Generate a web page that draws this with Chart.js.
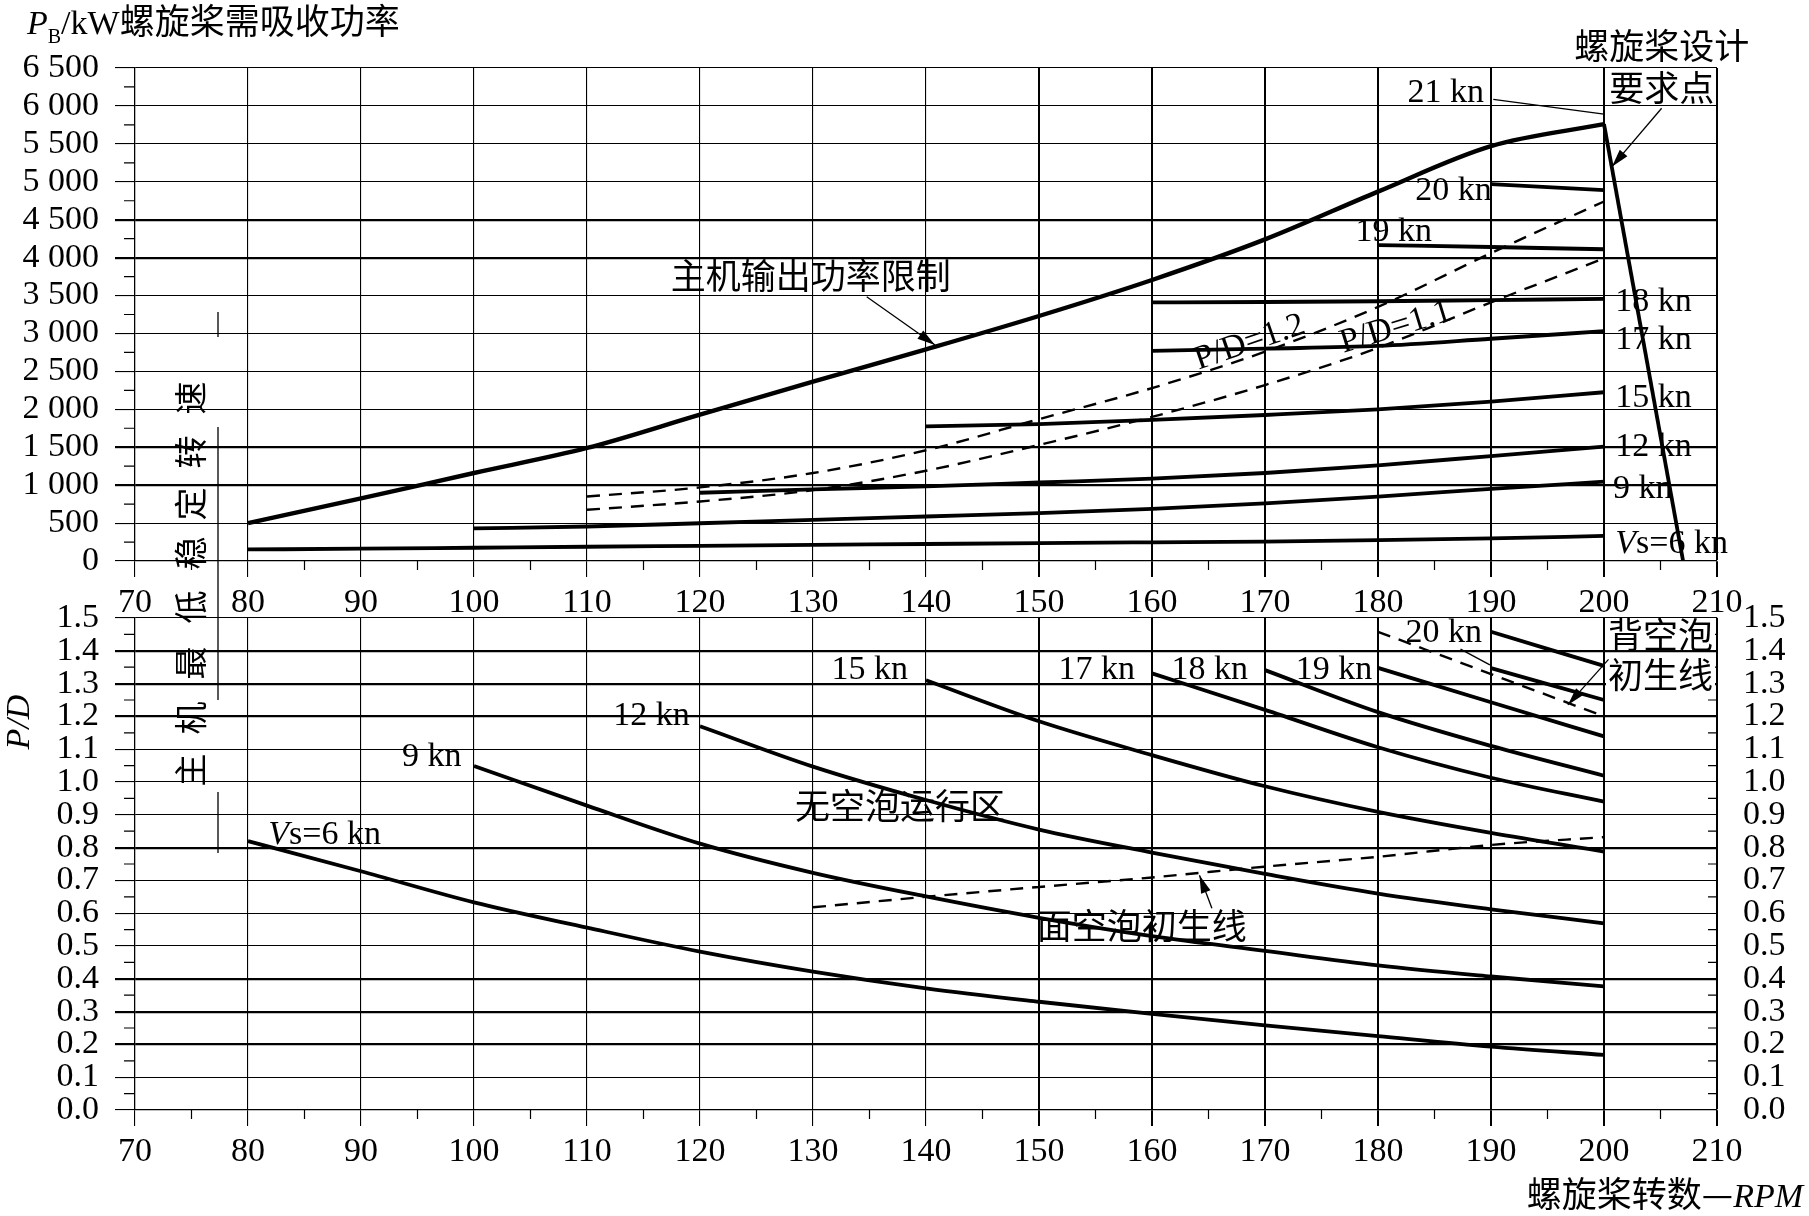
<!DOCTYPE html>
<html>
<head>
<meta charset="utf-8">
<script src="https://cdn.jsdelivr.net/npm/chart.js@4.4.1/dist/chart.umd.min.js"></script>
<style>
  html, body { margin: 0; padding: 0; background: #fff; }
  #wrap { position: relative; width: 1809px; height: 1216px; background: #fff; }
  canvas { position: absolute; left: 0; top: 0; }
</style>
</head>
<body>
<div id="wrap">
  <canvas id="upper" width="1809" height="1216"></canvas>
  <canvas id="lower" width="1809" height="1216"></canvas>
</div>
<script>
const SERIF = '"Liberation Serif", "Times New Roman", serif';
const CJK = '"Noto Sans CJK SC", sans-serif';

// propeller speed sample points (rpm) shared by every curve
const rpm = [80, 90, 100, 110, 120, 130, 140, 150, 160, 170, 180, 190, 200];

// upper diagram: absorbed power P_B (kW)
const engineLimit = [500, 825, 1160, 1490, 1930, 2365, 2790, 3230, 3705, 4240, 4870, 5470, 5760];
const pitch12 = [null, null, null, 850, 970, 1160, 1460, 1870, 2280, 2760, 3350, 4060, 4740];
const pitch11 = [null, null, null, 675, 785, 935, 1190, 1530, 1900, 2320, 2810, 3410, 3990];
const kw6 = [152, 162, 175, 188, 200, 212, 224, 236, 246, 256, 274, 299, 330];
const kw9 = [null, null, 430, 455, 498, 543, 587, 631, 688, 760, 850, 950, 1046];
const kw12 = [null, null, null, null, 900, 945, 985, 1035, 1085, 1160, 1262, 1384, 1507];
const kw15 = [null, null, null, null, null, null, 1775, 1805, 1860, 1925, 2000, 2100, 2225];
const kw17 = [null, null, null, null, null, null, null, null, 2770, 2800, 2835, 2930, 3030];
const kw18 = [null, null, null, null, null, null, null, null, 3410, 3415, 3425, 3440, 3455];
const kw19 = [null, null, null, null, null, null, null, null, null, null, 4165, 4140, 4110];
const kw20 = [null, null, null, null, null, null, null, null, null, null, null, 4970, 4890];
const designRpm = [200, 207];
const designKw = [5760, 0];

// lower diagram: pitch ratio P/D
const pd6 = [0.82, 0.728, 0.633, 0.556, 0.483, 0.422, 0.371, 0.33, 0.293, 0.258, 0.225, 0.193, 0.168];
const pd9 = [null, null, 1.049, 0.928, 0.812, 0.723, 0.651, 0.586, 0.53, 0.485, 0.441, 0.407, 0.377];
const pd12 = [null, null, null, null, 1.17, 1.047, 0.945, 0.855, 0.785, 0.72, 0.66, 0.612, 0.569];
const pd15 = [null, null, null, null, null, null, 1.31, 1.185, 1.082, 0.987, 0.909, 0.845, 0.788];
const pd17 = [null, null, null, null, null, null, null, null, 1.331, 1.22, 1.106, 1.013, 0.94];
const pd18 = [null, null, null, null, null, null, null, null, null, 1.341, 1.213, 1.11, 1.019];
const pd19 = [null, null, null, null, null, null, null, null, null, null, 1.348, 1.243, 1.139];
const pd20 = [null, null, null, null, null, null, null, null, null, null, null, 1.347, 1.25];
const pd21 = [null, null, null, null, null, null, null, null, null, null, null, 1.458, 1.354];
const backCavitation = [null, null, null, null, null, null, null, null, null, null, 1.458, 1.329, 1.2];
const faceCavitation = [null, null, null, null, null, 0.618, 0.65, 0.68, 0.709, 0.742, 0.772, 0.808, 0.832];

function curve(values, width, dashed) {
  const pts = [];
  rpm.forEach((r, i) => { if (values[i] != null) pts.push({x: r, y: values[i]}); });
  return {
    data: pts, borderColor: '#000', borderWidth: width || 3.8,
    borderDash: dashed ? [13, 9] : [], pointRadius: 0, fill: false,
    cubicInterpolationMode: 'monotone'
  };
}

function kwLabel(v) {
  if (v < 1000) return String(v);
  return Math.floor(v / 1000) + ' ' + String(v % 1000).padStart(3, '0');
}

// draw a row of text runs; run = [text, font, dy]
function write(ctx, runs, x, y, align, angle, bg) {
  ctx.save();
  ctx.translate(x, y);
  if (angle) ctx.rotate(angle * Math.PI / 180);
  ctx.textBaseline = 'alphabetic';
  ctx.textAlign = 'left';
  let w = 0;
  runs.forEach(r => { ctx.font = r[1]; w += ctx.measureText(r[0]).width; });
  let x0 = align === 'center' ? -w / 2 : align === 'right' ? -w : 0;
  if (bg) { ctx.fillStyle = '#fff'; ctx.fillRect(x0 - 2, -bg[0], w + 4, bg[1]); }
  ctx.fillStyle = '#000';
  runs.forEach(r => { ctx.font = r[1]; ctx.fillText(r[0], x0, r[2] || 0); x0 += ctx.measureText(r[0]).width; });
  ctx.restore();
}

function arrow(ctx, x1, y1, x2, y2, head) {
  ctx.save();
  ctx.strokeStyle = '#000'; ctx.fillStyle = '#000'; ctx.lineWidth = 1.3;
  ctx.beginPath(); ctx.moveTo(x1, y1); ctx.lineTo(x2, y2); ctx.stroke();
  if (head) {
    const a = Math.atan2(y2 - y1, x2 - x1), L = 18, H = 5;
    ctx.beginPath();
    ctx.moveTo(x2, y2);
    ctx.lineTo(x2 - L * Math.cos(a) + H * Math.sin(a), y2 - L * Math.sin(a) - H * Math.cos(a));
    ctx.lineTo(x2 - L * Math.cos(a) - H * Math.sin(a), y2 - L * Math.sin(a) + H * Math.cos(a));
    ctx.closePath(); ctx.fill();
  }
  ctx.restore();
}

function minorTicks(chart, yStep, yMax, rightSide) {
  const ctx = chart.ctx, a = chart.chartArea, xs = chart.scales.x, ys = chart.scales.y;
  ctx.save();
  ctx.strokeStyle = '#000'; ctx.lineWidth = 1.2;
  ctx.beginPath();
  for (let v = 75; v < 210; v += 10) {
    const p = xs.getPixelForValue(v);
    ctx.moveTo(p, a.bottom); ctx.lineTo(p, a.bottom + 9);
  }
  for (let v = yStep / 2; v < yMax; v += yStep) {
    const p = ys.getPixelForValue(v);
    ctx.moveTo(a.left - 11, p); ctx.lineTo(a.left, p);
    if (rightSide) { ctx.moveTo(a.right - 9, p); ctx.lineTo(a.right, p); }
  }
  ctx.stroke();
  ctx.restore();
}

const f34 = '34px ' + SERIF, i34 = 'italic 34px ' + SERIF, c35 = '35px ' + CJK;

const upperNotes = {
  id: 'upperNotes',
  afterDraw(chart) {
    const ctx = chart.ctx, xs = chart.scales.x, ys = chart.scales.y;
    const X = v => xs.getPixelForValue(v), Y = v => ys.getPixelForValue(v);
    minorTicks(chart, 500, 6500, false);

    // axis title
    write(ctx, [['P', i34], ['B', '20px ' + SERIF, 9], ['/kW', f34], ['螺旋桨需吸收功率', c35]], 27, 34, 'left');

    write(ctx, [['主机输出功率限制', c35]], X(129.8), Y(3745) + 12, 'center');
    arrow(ctx, X(134.75), Y(3485), X(140.8), Y(2848), true);

    write(ctx, [['螺旋桨设计', c35]], X(205.1), Y(6777) + 12, 'center');
    write(ctx, [['要求点', c35]], X(205.1), Y(6223) + 12, 'center');
    arrow(ctx, X(205.1), Y(5969), X(200.7), Y(5199), true);

    write(ctx, [['21 kn', f34]], X(182.6), Y(6210) + 12, 'left');
    arrow(ctx, X(190.2), Y(6087), X(200), Y(5893), false);
    write(ctx, [['20 kn', f34]], X(183.3), Y(4918) + 12, 'left');
    write(ctx, [['19 kn', f34]], X(178.0), Y(4377) + 12, 'left');
    write(ctx, [['18 kn', f34]], X(201.0), Y(3454) + 12, 'left');
    write(ctx, [['17 kn', f34]], X(201.0), Y(2953) + 12, 'left');
    write(ctx, [['15 kn', f34]], X(201.0), Y(2189) + 12, 'left');
    write(ctx, [['12 kn', f34]], X(201.0), Y(1543) + 12, 'left');
    write(ctx, [['9 kn', f34]], X(200.8), Y(989) + 12, 'left');
    write(ctx, [['V', i34], ['s=6 kn', f34]], X(201.0), Y(264) + 12, 'left');

    write(ctx, [['P/D=1.2', f34]], X(168.9), Y(2927) + 12, 'center', -19);
    write(ctx, [['P/D=1.1', f34]], X(181.8), Y(3125) + 12, 'center', -17);

    // minimum stable engine speed note, spanning both diagrams
    const chars = ['主', '机', '最', '低', '稳', '定', '转', '速'];
    const cy = [770, 718, 663, 607, 553, 504, 452, 398];
    chars.forEach((c, i) => write(ctx, [[c, '33px ' + CJK]], 191 + 12, cy[i], 'center', -90));
    ctx.save();
    ctx.strokeStyle = '#000'; ctx.lineWidth = 1.3;
    ctx.beginPath();
    [[312, 337], [427, 700], [792, 853]].forEach(s => { ctx.moveTo(218, s[0]); ctx.lineTo(218, s[1]); });
    ctx.stroke();
    ctx.restore();
  }
};

const lowerNotes = {
  id: 'lowerNotes',
  afterDraw(chart) {
    const ctx = chart.ctx, xs = chart.scales.x, ys = chart.scales.y;
    const X = v => xs.getPixelForValue(v), Y = v => ys.getPixelForValue(v);
    minorTicks(chart, 0.1, 1.5, true);

    write(ctx, [['P/D', i34]], 17 + 12, 722, 'center', -90);
    write(ctx, [['螺旋桨转数—', c35], ['RPM', i34]], 1803, 1207, 'right');

    write(ctx, [['V', i34], ['s=6 kn', f34]], X(81.8), Y(0.848) + 12, 'left');
    write(ctx, [['9 kn', f34]], X(98.9), Y(1.085) + 12, 'right');
    write(ctx, [['12 kn', f34]], X(119.1), Y(1.21) + 12, 'right');
    write(ctx, [['15 kn', f34]], X(138.4), Y(1.351) + 12, 'right');
    write(ctx, [['17 kn', f34]], X(158.5), Y(1.351) + 12, 'right');
    write(ctx, [['18 kn', f34]], X(168.5), Y(1.351) + 12, 'right');
    write(ctx, [['19 kn', f34]], X(179.5), Y(1.351) + 12, 'right');
    write(ctx, [['20 kn', f34]], X(189.2), Y(1.463) + 12, 'right');
    arrow(ctx, X(187.3), Y(1.405), X(189.9), Y(1.357), false);

    write(ctx, [['无空泡运行区', c35]], X(137.7), Y(0.924) + 12, 'center');
    write(ctx, [['面空泡初生线', c35]], X(159.1), Y(0.558) + 12, 'center');
    arrow(ctx, X(165.3), Y(0.615), X(164.2), Y(0.716), true);

    write(ctx, [['背空泡', c35]], X(205.0), Y(1.445) + 12, 'center', 0, [28, 30]);
    write(ctx, [['初生线', c35]], X(205.0), Y(1.323) + 12, 'center', 0, [30, 34]);
    arrow(ctx, X(200.4), Y(1.374), X(196.8), Y(1.235), true);
  }
};

const tickFont = {family: SERIF, size: 34};

function xAxis(height) {
  return {
    type: 'linear', min: 70, max: 210,
    ticks: {stepSize: 10, autoSkip: false, maxRotation: 0, color: '#000', font: tickFont, padding: 6},
    grid: {color: '#000', tickLength: 16, lineWidth: c => (c.tick && c.tick.value >= 150 ? 2 : 1.1)},
    border: {color: '#000', width: 1.2},
    afterFit: s => { s.height = height; }
  };
}

new Chart(document.getElementById('upper'), {
  type: 'line',
  data: {
    datasets: [
      curve(engineLimit, 4.4),
      curve(pitch12, 2.4, true),
      curve(pitch11, 2.4, true),
      curve(kw6), curve(kw9), curve(kw12), curve(kw15),
      curve(kw17), curve(kw18), curve(kw19), curve(kw20),
      {
        data: designRpm.map((r, i) => ({x: r, y: designKw[i]})),
        borderColor: '#000', borderWidth: 3.8, pointRadius: 0, fill: false
      }
    ]
  },
  options: {
    responsive: false, animation: false, devicePixelRatio: 1,
    layout: {padding: {top: 68, right: 92, bottom: 601, left: 0}},
    plugins: {legend: {display: false}, tooltip: {enabled: false}},
    scales: {
      x: xAxis(54),
      y: {
        min: 0, max: 6500,
        ticks: {stepSize: 500, autoSkip: false, color: '#000', font: tickFont, padding: 16, callback: v => kwLabel(v)},
        grid: {
          color: '#000', tickLength: 20,
          lineWidth: c => ([1000, 1500, 4000, 4500].includes(c.tick && c.tick.value) ? 2.2 : 1.1)
        },
        border: {color: '#000', width: 1.2},
        afterFit: s => { s.width = 135; }
      }
    }
  },
  plugins: [upperNotes]
});

new Chart(document.getElementById('lower'), {
  type: 'line',
  data: {
    datasets: [
      curve(pd6), curve(pd9), curve(pd12), curve(pd15), curve(pd17),
      curve(pd18), curve(pd19), curve(pd20), curve(pd21),
      curve(backCavitation, 2.4, true),
      curve(faceCavitation, 2.4, true)
    ]
  },
  options: {
    responsive: false, animation: false, devicePixelRatio: 1,
    layout: {padding: {top: 618, right: 0, bottom: 0, left: 0}},
    plugins: {legend: {display: false}, tooltip: {enabled: false}},
    scales: {
      x: xAxis(106),
      y: {
        min: 0, max: 1.5,
        ticks: {stepSize: 0.1, autoSkip: false, color: '#000', font: tickFont, padding: 16, callback: v => v.toFixed(1)},
        grid: {
          color: '#000', tickLength: 20,
          lineWidth: c => ([14, 13, 12, 8, 4, 3, 2].includes(Math.round((c.tick ? c.tick.value : 0) * 10)) ? 2.2 : 1.1)
        },
        border: {color: '#000', width: 1.2},
        afterFit: s => { s.width = 135; }
      },
      y2: {
        axis: 'y', position: 'right', min: 0, max: 1.5,
        ticks: {stepSize: 0.1, autoSkip: false, color: '#000', font: tickFont, padding: 26, callback: v => v.toFixed(1)},
        grid: {drawOnChartArea: false, drawTicks: false},
        border: {color: '#000', width: 1.2},
        afterFit: s => { s.width = 92; }
      }
    }
  },
  plugins: [lowerNotes]
});
</script>
</body>
</html>
